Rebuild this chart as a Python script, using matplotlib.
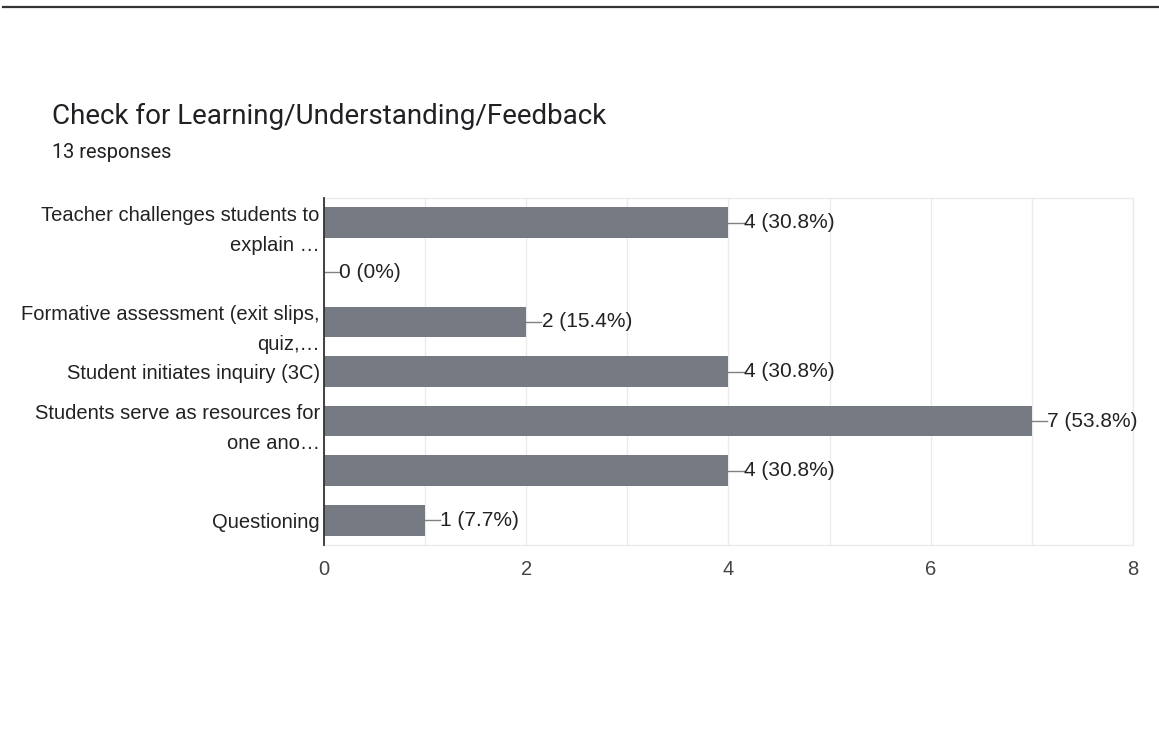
import matplotlib
matplotlib.use("Agg")
import matplotlib.pyplot as plt
from matplotlib.lines import Line2D

categories = [
    "Teacher challenges students to\nexplain …",
    "",
    "Formative assessment (exit slips,\nquiz,…",
    "Student initiates inquiry (3C)",
    "Students serve as resources for\none ano…",
    "",
    "Questioning",
]
values = [4, 0, 2, 4, 7, 4, 1]
percents = ["30.8%", "0%", "15.4%", "30.8%", "53.8%", "30.8%", "7.7%"]
xticks = [0, 2, 4, 6, 8]

plt.rcParams['font.family'] = ['Liberation Sans', 'DejaVu Sans']

W, H = 1159, 729
fig = plt.figure(figsize=(W / 100, H / 100), dpi=100)
fig.patch.set_facecolor("white")

# top border line
fig.add_artist(Line2D([3 / W, 1.0], [1 - 7 / H, 1 - 7 / H], color="#333333", lw=1.6,
                      transform=fig.transFigure))

fig.text(52 / W, 1 - 116 / H, "Check for Learning/Understanding/Feedback",
         fontsize=20, color="#202124", va="center", ha="left",
         family=['Roboto', 'DejaVu Sans'])
fig.text(52 / W, 1 - 153 / H, "13 responses", fontsize=14.4, color="#202124",
         va="center", ha="left", family=['Roboto', 'DejaVu Sans'])

left, right, top, bottom = 324 / W, 1133 / W, 1 - 198 / H, 1 - 545 / H
ax = fig.add_axes([left, bottom, right - left, top - bottom])

y = list(range(len(categories)))
ax.barh(y, values, height=0.62, color="#757a83", zorder=3)
ax.set_ylim(len(categories) - 0.5, -0.5)
ax.set_xlim(0, 8)
ax.set_yticks(y)
ax.set_yticklabels(categories, fontsize=14.5, color="#222222", linespacing=1.75)
ax.set_xticks(xticks)
ax.set_xticklabels([str(t) for t in xticks], fontsize=14.5, color="#444444")
ax.set_xticks(range(0, 9), minor=True)
ax.tick_params(axis="both", which="both", length=0)
ax.tick_params(axis="y", pad=3)
ax.tick_params(axis="x", pad=11)
ax.grid(axis="x", which="both", color="#ebebeb", lw=1, zorder=0)

for s in ["top", "right", "bottom"]:
    ax.spines[s].set_color("#ebebeb")
    ax.spines[s].set_linewidth(1)
ax.spines["left"].set_color("#333333")
ax.spines["left"].set_linewidth(1.3)
ax.spines["left"].set_zorder(5)

# annotation leader lines + labels
unit_px = (1133 - 324) / 8
lead = 15 / unit_px
for i, (v, p) in enumerate(zip(values, percents)):
    ax.plot([v, v + lead], [i, i], color="#808080", lw=1, zorder=4, clip_on=False)
    ax.text(v + lead + 0.003, i, f"{v} ({p})", fontsize=15, color="#222222",
            va="center", ha="left", zorder=4)

fig.savefig("out.png", dpi=100, facecolor="white")
